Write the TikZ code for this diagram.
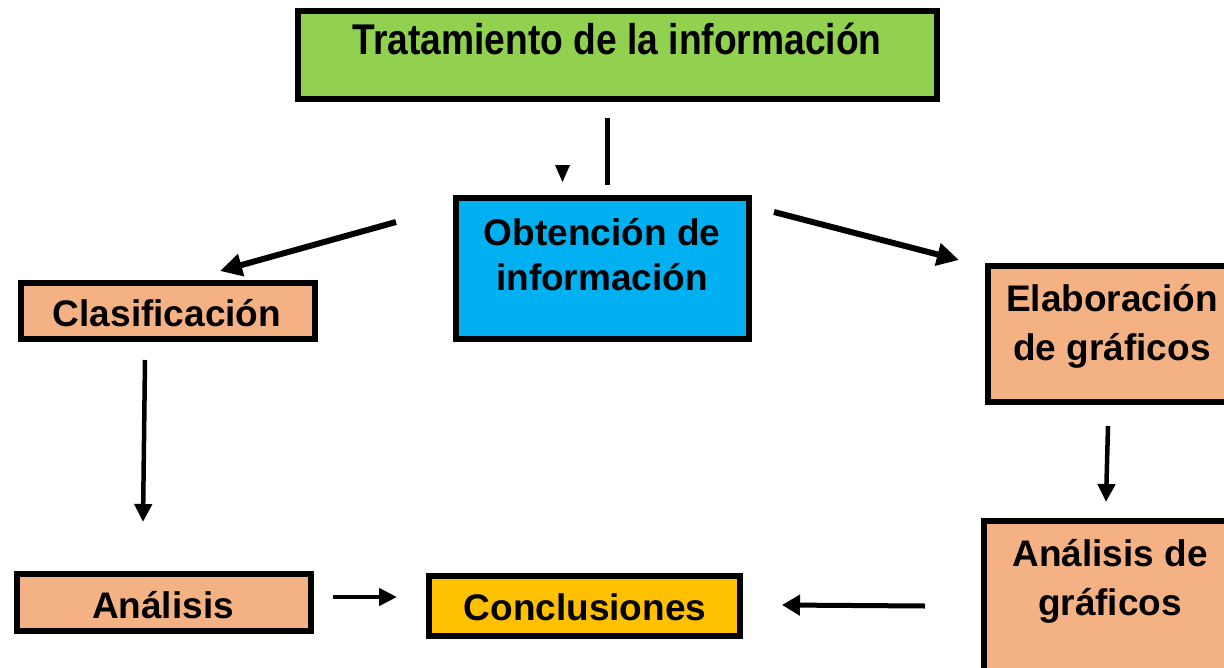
\documentclass[tikz,border=0pt]{standalone}
\usepackage{fontspec}
\setmainfont{Liberation Sans}
\usetikzlibrary{arrows.meta}
\definecolor{cgreen}{HTML}{92D050}
\definecolor{cblue}{HTML}{00B0F0}
\definecolor{csalmon}{HTML}{F4B183}
\definecolor{cgold}{HTML}{FFC000}
\tikzset{
  box/.style={draw=black, line width=6pt, inner sep=0pt},
  lbl/.style={anchor=base, inner sep=0pt, font=\fontsize{37}{44}\selectfont\bfseries},
  bigarrow/.style={line width=6pt, -{Triangle[length=22pt,width=22pt]}},
  smallarrow/.style={line width=4.5pt, -{Triangle[length=18pt,width=17pt]}},
}
\begin{document}
\begin{tikzpicture}[x=1pt,y=-1pt]
\useasboundingbox (0,0) rectangle (1224,667);
\clip (0,0) rectangle (1224,667);
% boxes
\draw[box, fill=cgreen] (298,11) rectangle (937,99);
\draw[box, fill=cblue] (456,198) rectangle (749,339);
\draw[box, fill=csalmon] (21,283) rectangle (315,339);
\draw[box, fill=csalmon] (988,266) rectangle (1240,402);
\draw[box, fill=csalmon] (984,521) rectangle (1240,690);
\draw[box, fill=csalmon] (17,574) rectangle (311,631);
\draw[box, fill=cgold] (429,576) rectangle (740,636);
% texts
\node[lbl, font=\fontsize{43}{50}\selectfont\bfseries] (trat) at (617,54) {\scalebox{0.865}[1]{Tratamiento de la información}};
\node[lbl] (obt1) at (602,245) {Obtención de};
\node[lbl] (obt2) at (602,290) {información};
\node[lbl] (clas) at (167,326) {Clasificación};
\node[lbl] (elab1) at (1112,311) {Elaboración};
\node[lbl] (elab2) at (1112,360) {de gráficos};
\node[lbl] (ang1) at (1110,566) {Análisis de};
\node[lbl] (ang2) at (1110,615) {gráficos};
\node[lbl] (anal) at (163,618) {Análisis};
\node[lbl] (conc) at (585,620) {Conclusiones};
% connector ends
\coordinate (a1s) at (396,222); \coordinate (a1e) at (220,271);
\coordinate (a2s) at (774,212); \coordinate (a2e) at (959,260);
\coordinate (a3s) at (145,360); \coordinate (a3e) at (143,522);
\coordinate (a4s) at (1108,426); \coordinate (a4e) at (1106,502);
\coordinate (a5s) at (333,597); \coordinate (a5e) at (397,597);
\coordinate (a6s) at (925,606); \coordinate (a6e) at (782,605);
\coordinate (a7s) at (607,118); \coordinate (a7e) at (607,185);
% connectors
\draw[bigarrow] (a1s) -- (a1e);
\draw[bigarrow] (a2s) -- (a2e);
\draw[smallarrow] (a3s) -- (a3e);
\draw[smallarrow] (a4s) -- (a4e);
\draw[smallarrow] (a5s) -- (a5e);
\draw[line width=5pt, -{Triangle[length=18pt,width=20pt]}] (a6s) -- (a6e);
\draw[line width=5pt] (a7s) -- (a7e);
\fill (555,165) -- (570,165) -- (562.5,182) -- cycle;
\end{tikzpicture}
\end{document}
